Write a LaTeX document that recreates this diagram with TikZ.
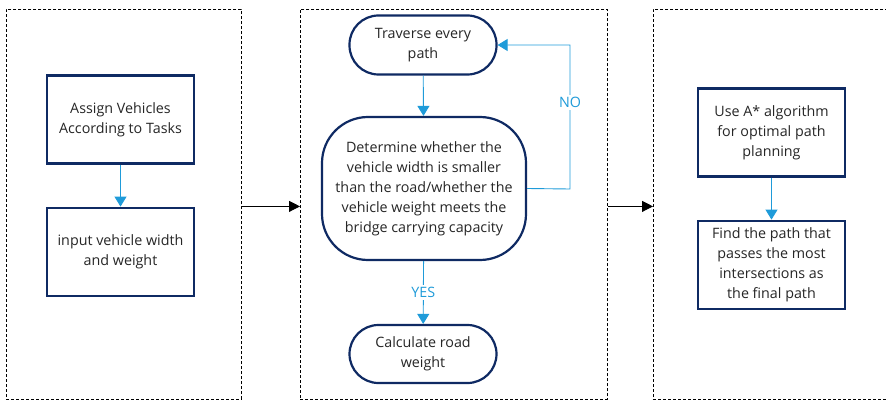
\documentclass[tikz,border=0pt]{standalone}
\usepackage{fontspec}
\setmainfont{Open Sans}
\usepackage{xcolor}
\usetikzlibrary{arrows.meta,positioning}

\definecolor{navy}{HTML}{0F2A63}
\definecolor{flowblue}{HTML}{1F9BD9}
\definecolor{inkgray}{HTML}{262626}

\begin{document}
\begin{tikzpicture}[x=1pt, y=-1pt,
    stage/.style={draw, densely dashed, line width=0.8pt, inner sep=0pt,
                  anchor=north west},
    taskbox/.style={draw=navy, line width=2.2pt, fill=white, align=center,
                    text=inkgray, minimum width=147pt, minimum height=88pt,
                    inner sep=1pt, font=\fontsize{14.3}{20}\selectfont},
    pillbox/.style={taskbox, rounded corners=29pt, minimum height=59pt},
    flow/.style={-{Triangle[width=12pt, length=10pt]}, flowblue, line width=0.9pt},
    link/.style={-{Triangle[width=11pt, length=11pt]}, black, line width=0.9pt},
    flowlabel/.style={fill=white, text=flowblue, inner sep=2pt,
                      font=\fontsize{14.3}{16}\selectfont},
  ]

  \path[use as bounding box, clip] (0,0) rectangle (886,401);

  % three stages
  \node[stage, minimum width=235pt, minimum height=390pt] (stageA) at (6,9) {};
  \node[stage, minimum width=307pt, minimum height=390pt] (stageB) at (300,9) {};
  \node[stage, minimum width=260pt, minimum height=390pt] (stageC) at (653,9) {};

  % stage 1
  \node[taskbox] (assign) at (120.5,119.5) {Assign Vehicles\\According to Tasks};
  \node[taskbox, below=42pt of assign] (input) {input vehicle width\\and weight};

  % stage 2
  \node[pillbox] (trav) at (423,45) {Traverse every\\path};
  \node[taskbox, rounded corners=46pt, minimum width=204pt, minimum height=143pt]
      (judge) at (424,188.5)
      {Determine whether the\\vehicle width is smaller\\than the road/whether the\\vehicle weight meets the\\bridge carrying capacity};
  \node[pillbox, minimum height=58pt] (calc) at (423,354) {Calculate road\\weight};

  % stage 3
  \node[taskbox] (astar) at (771.5,132.5) {Use A* algorithm\\for optimal path\\planning};
  \node[taskbox, below=42pt of astar] (final)
      {Find the path that\\passes the most\\intersections as\\the final path};

  \coordinate (loop) at (570,189);

  \draw[flow] (assign) -- (input);
  \draw[flow] (trav) -- (judge);
  \draw[flow] (judge.east) -- (loop) |- node[flowlabel, pos=0.3] {NO} (trav.east);
  \draw[flow] (judge) -- node[flowlabel, pos=0.5] {YES} (calc);
  \draw[flow] (astar) -- (final);

  \draw[link] ([yshift=-2pt]stageA.east) -- ([yshift=-2pt]stageB.west);
  \draw[link] ([yshift=-2pt]stageB.east) -- ([yshift=-2pt]stageC.west);

\end{tikzpicture}
\end{document}
